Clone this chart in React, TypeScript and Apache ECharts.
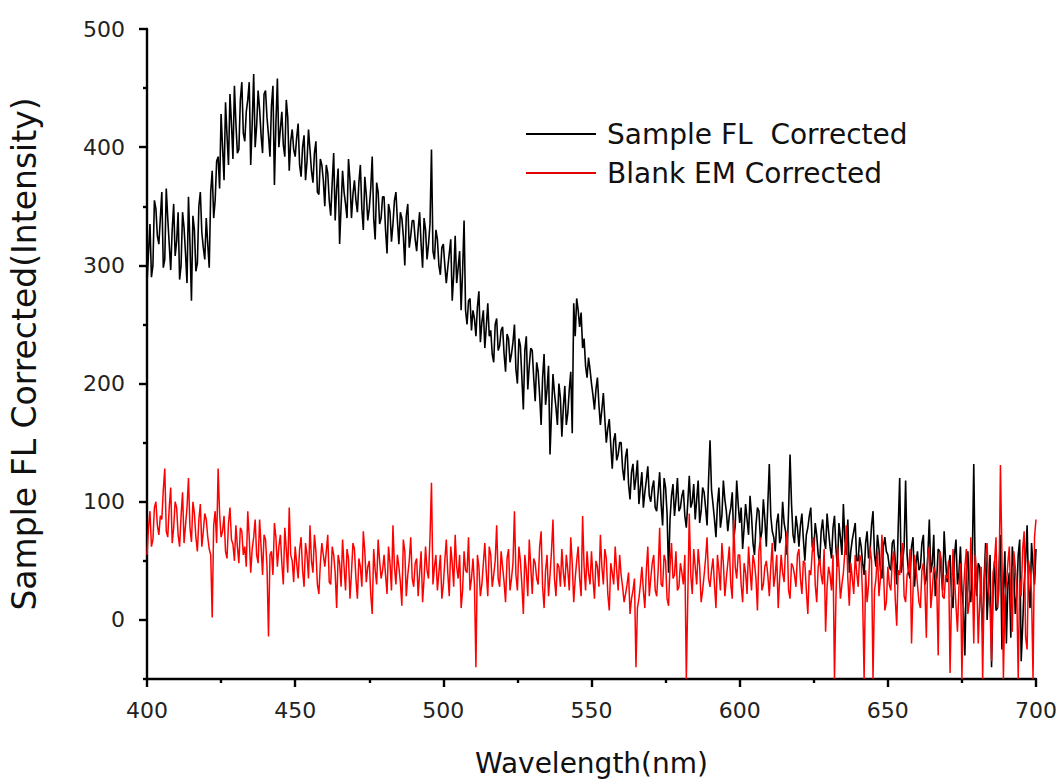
import React, { useEffect, useRef } from "react";
import * as echarts from "echarts";

// Wavelength grid (nm): whole-nm readings 400 → 700 and half-nm readings 400.5 → 699.5
const WL_START = 400;
const WL_STEP = 1;

// Sample FL Corrected (black) at whole nm, 400 → 700
const sampleFLWhole: number[] = [
  285, 335, 300, 348, 318, 362, 305, 340, 296, 352,
  320, 288, 345, 310, 358, 270, 330, 302, 362, 315,
  340, 298, 380, 355, 392, 428, 372, 410, 445, 390,
  420, 398, 455, 405, 440, 385, 462, 418, 432, 395,
  448, 410, 435, 368, 458, 415, 402, 440, 380, 415,
  392, 420, 375, 410, 388, 398, 370, 405, 360, 385,
  350, 378, 342, 395, 365, 318, 380, 352, 390, 340,
  372, 345, 385, 330, 360, 348, 392, 322, 362, 340,
  358, 310, 345, 335, 362, 318, 340, 300, 352, 325,
  338, 312, 345, 298, 330, 318, 398, 305, 322, 292,
  318, 285, 310, 270, 325, 298, 262, 338, 250, 272,
  262, 240, 278, 252, 230, 268, 245, 218, 255, 232,
  248, 210, 238, 225, 250, 200, 232, 178, 240, 215,
  228, 185, 210, 165, 225, 195, 140, 208, 180, 200,
  155, 198, 175, 210, 268, 272, 248, 230, 215, 222,
  200, 178, 205, 165, 192, 150, 170, 128, 158, 140,
  150, 118, 145, 102, 132, 120, 98, 125, 108, 130,
  100, 118, 92, 125, 80, 112, 40, 105, 88, 120,
  95, 110, 78, 122, 100, 85, 118, 92, 108, 80,
  152, 98, 70, 112, 88, 102, 75, 95, 68, 118,
  82, 60, 98, 72, 88, 55, 95, 68, 102, 62,
  132, 75, 58, 90, 70, 82, 55, 140, 72, 88,
  62, 90, 50, 78, 95, 58, 72, 48, 85, 60,
  75, 52, 88, 45, 70, 98, 55, 40, 68, 82,
  50, 62, 38, 75, 58, 92, 45, 60, 35, 70,
  55, 42, 68, 30, 120, 50, 118, 40, 62, 28,
  58, 45, 72, 35, 85, 48, 20, 60, 40, 75,
  32, 55, 10, 68, 40, 25, -30, 58, 15, 132,
  20, 45, -10, 65, 30, -40, 50, 10, 72, 25,
  -20, 40, 62, 5, 55, -35, 30, 80, 10, 45,
  60,
];

// Sample FL Corrected (black) at half nm, 400.5 → 699.5
const sampleFLHalf: number[] = [
  310, 290, 355, 325, 340, 298, 365, 318, 330, 308,
  345, 300, 332, 285, 318, 342, 295, 350, 328, 305,
  318, 362, 340, 388, 365, 400, 438, 385, 420, 452,
  395, 440, 412, 430, 455, 420, 400, 448, 410, 445,
  425, 392, 452, 420, 400, 430, 392, 425, 405, 398,
  408, 385, 400, 372, 415, 380, 395, 362, 390, 372,
  385, 355, 370, 338, 382, 350, 362, 340, 372, 360,
  355, 370, 348, 375, 338, 365, 340, 370, 335, 358,
  330, 352, 320, 355, 338, 345, 325, 342, 315, 338,
  322, 330, 318, 340, 305, 335, 312, 330, 300, 315,
  300, 298, 322, 292, 285, 312, 295, 262, 270, 245,
  255, 265, 235, 262, 248, 240, 225, 250, 228, 245,
  225, 242, 218, 235, 212, 238, 205, 228, 195, 230,
  205, 218, 190, 205, 182, 215, 175, 192, 165, 188,
  180, 165, 195, 158, 240, 262, 260, 238, 205, 212,
  190, 195, 182, 178, 170, 162, 148, 152, 135, 150,
  128, 138, 115, 125, 110, 135, 112, 95, 118, 105,
  112, 95, 108, 98, 120, 90, 85, 115, 102, 92,
  105, 88, 100, 95, 115, 102, 82, 112, 95, 118,
  110, 85, 98, 78, 118, 92, 88, 108, 80, 98,
  95, 78, 85, 105, 65, 80, 92, 75, 85, 98,
  88, 70, 82, 65, 100, 75, 92, 98, 65, 78,
  80, 68, 72, 88, 62, 82, 55, 75, 68, 90,
  62, 78, 60, 82, 55, 68, 85, 58, 75, 50,
  70, 48, 65, 52, 80, 55, 72, 42, 62, 58,
  45, 65, 50, 78, 40, 62, 55, 35, 70, 48,
  42, 65, 30, 55, 40, 72, 35, 58, 25, 50,
  45, 20, 55, 30, 62, 10, 40, 25, 50, 35,
  48, 15, 35, 0, 55, 25, 8, 42, -25, 58,
  30, -15, 45, 20, 68, -5, 50, 25, 65, 30,
];

// Blank EM Corrected (red) at whole nm, 400 → 700
const blankEMWhole: number[] = [
  55, 92, 68, 100, 72, 85, 128, 70, 112, 78,
  95, 62, 108, 80, 120, 66, 90, 58, 98, 75,
  85, 60, 2, 92, 128, 70, 88, 52, 95, 64,
  80, 48, 75, 62, 92, 40, 70, 55, 85, 38,
  68, -14, 58, 82, 45, 72, 30, 60, 95, 50,
  62, 35, 70, 28, 55, 80, 40, 58, 22, 65,
  45, 72, 30, 55, 10, 48, 68, 25, 52, 40,
  60, 18, 45, 75, 32, 50, 5, 42, 68, 35,
  55, 22, 48, 80, 30, 45, 12, 58, 38, 70,
  28, 52, 40, 15, 62, 35, 116, 45, 25, 55,
  30, 68, 20, 48, 72, 35, 10, 58, 40, 25,
  52, -40, 45, 30, 65, 20, 55, 38, 80, 28,
  45, 15, 60, 35, 92, 25, 50, 5, 42, 68,
  22, 48, 30, 75, 10, 55, 38, 85, 20, 45,
  60, 28, 42, 70, 15, 50, 35, 88, 25, 40,
  58, 18, 45, 72, 30, 52, 8, 40, 62, 25,
  38, 15, 30, 5, 25, -40, 18, 45, 10, 62,
  35, 55, 20, 78, 28, 50, 12, 65, 38, 25,
  48, 30, -50, 90, 22, 45, 60, 15, 38, 70,
  28, 52, 10, 42, 65, 20, 48, 30, 85, 35,
  55, 15, 40, 62, 25, 48, 8, 70, 30, 50,
  20, 65, 38, 10, 55, 32, 75, 18, 45, 28,
  60, 22, 48, 5, 38, 70, 15, 52, 30, -10,
  45, 25, -50, 62, 18, 40, 80, 12, 35, 55,
  28, 50, -50, 15, 62, -50, 35, 20, 72, 8,
  45, 25, 58, -5, 38, 65, 15, 42, -20, 55,
  30, 10, 48, -15, 62, 25, 40, -30, 52, 18,
  35, -45, 60, 12, 28, -50, 45, 5, 70, -20,
  38, 15, -50, 55, 25, -35, 48, 10, 131, -50,
  30, 62, -10, 45, -50, 20, 75, -25, 40, -50,
  85,
];

// Blank EM Corrected (red) at half nm, 400.5 → 699.5
const blankEMHalf: number[] = [
  78, 62, 95, 80, 88, 110, 75, 95, 65, 100,
  72, 88, 65, 95, 78, 100, 70, 85, 62, 90,
  70, 55, 80, 65, 90, 75, 58, 82, 68, 50,
  62, 78, 55, 45, 70, 60, 85, 48, 62, 72,
  45, 55, 38, 70, 62, 48, 78, 40, 55, 32,
  48, 60, 42, 65, 35, 50, 72, 30, 48, 55,
  58, 32, 62, 40, 55, 28, 45, 60, 18, 65,
  35, 52, 28, 58, 45, 22, 60, 30, 50, 42,
  38, 62, 25, 45, 55, 32, 68, 20, 50, 35,
  48, 20, 58, 35, 42, 70, 30, 55, 40, 18,
  50, 40, 62, 28, 45, 55, 25, 42, 70, 35,
  30, 55, 20, 48, 40, 62, 28, 50, 35, 58,
  32, 52, 25, 48, 38, 62, 30, 55, 20, 45,
  52, 35, 62, 28, 42, 20, 58, 35, 48, 28,
  40, 55, 25, 48, 35, 62, 20, 45, 58, 30,
  35, 50, 28, 45, 60, 22, 48, 30, 42, 55,
  28, 22, 40, 18, 35, 10, 30, 25, 42, 20,
  48, 25, 42, 30, 55, 18, 45, 35, 58, 28,
  40, 55, 20, 38, 60, 30, 45, 25, 52, 35,
  42, 30, 55, 25, 48, 35, 62, 18, 45, 55,
  30, 48, 22, 42, 55, 35, 58, 25, 45, 38,
  45, 28, 55, 35, 40, 62, 25, 48, 38, 55,
  35, 50, 25, 42, 58, 30, 45, 38, 60, 28,
  38, 55, 20, 45, 30, 58, 35, 48, 22, 40,
  55, 18, 42, 30, 50, 25, 58, 35, 45, 15,
  30, 50, 18, 42, 55, 20, 38, 60, 25, 45,
  15, 42, 28, 55, 10, 45, 30, 58, 20, 38,
  50, 20, 35, -10, 48, 22, 60, 15, 40, 55,
  -20, 45, 30, 65, 10, 40, 70, 25, 55, 20,
  48, 15, 58, 25, 35, 60, -15, 50, 22, 70,
];

const seriesNames = ["Sample FL  Corrected", "Blank EM Corrected"];
const yMajorTicks = [0, 100, 200, 300, 400, 500];
const yMinorTicks = [-50, 50, 150, 250, 350, 450];

const FONT = "DejaVu Sans";

// Merge whole-nm and half-nm readings into one ordered [wavelength, value] list
const mergeReadings = (whole: number[], half: number[]) => {
  const out: number[][] = [];
  whole.forEach((v, i) => {
    const wl = WL_START + i * WL_STEP;
    out.push([wl, v]);
    if (i < half.length) out.push([wl + WL_STEP / 2, half[i]]);
  });
  return out;
};

export default function App() {
  const ref = useRef<HTMLDivElement>(null);

  useEffect(() => {
    if (!ref.current) return;
    const chart = echarts.init(ref.current, undefined, { renderer: "svg" });
    const axisLineStyle = { color: "#000", width: 2.4 };
    chart.setOption({
      animation: false,
      backgroundColor: "#ffffff",
      grid: { left: 145, right: 27, top: 29, bottom: 102, containLabel: false },
      legend: {
        orient: "vertical",
        left: 521,
        top: 115,
        icon: "rect",
        itemWidth: 70,
        itemHeight: 2,
        itemGap: 11,
        data: seriesNames,
        textStyle: {
          fontFamily: FONT,
          fontSize: 28,
          lineHeight: 28,
          color: "#111",
          padding: [0, 0, 0, 6],
        },
      },
      xAxis: {
        type: "value",
        min: 400,
        max: 700,
        interval: 50,
        name: "Wavelength(nm)",
        nameLocation: "middle",
        nameGap: 70,
        nameTextStyle: { fontFamily: FONT, fontSize: 28, color: "#111" },
        axisLine: { onZero: false, lineStyle: axisLineStyle },
        axisTick: { show: true, inside: false, length: 8, lineStyle: axisLineStyle },
        minorTick: { show: true, splitNumber: 2, length: 4, lineStyle: axisLineStyle },
        splitLine: { show: false },
        minorSplitLine: { show: false },
        axisLabel: { fontFamily: FONT, fontSize: 22, color: "#222", margin: 20 },
      },
      yAxis: [
        {
          type: "value",
          min: -50,
          max: 500,
          interval: 50,
          name: "Sample FL Corrected(Intensity)",
          nameLocation: "middle",
          nameGap: 106,
          nameTextStyle: { fontFamily: FONT, fontSize: 33, color: "#111" },
          axisLine: { show: true, onZero: false, lineStyle: axisLineStyle },
          axisTick: {
            show: true,
            length: 8,
            customValues: yMajorTicks,
            lineStyle: axisLineStyle,
          },
          splitLine: { show: false },
          axisLabel: {
            fontFamily: FONT,
            fontSize: 22,
            color: "#222",
            margin: 22,
            customValues: yMajorTicks,
            formatter: (v: number) => (v % 100 === 0 ? String(v) : ""),
          },
        },
        {
          type: "value",
          min: -50,
          max: 500,
          interval: 50,
          position: "left",
          axisLine: { show: false, onZero: false },
          axisTick: {
            show: true,
            length: 4,
            customValues: yMinorTicks,
            lineStyle: axisLineStyle,
          },
          axisLabel: { show: false },
          splitLine: { show: false },
        },
      ],
      series: [
        {
          name: seriesNames[0],
          type: "line",
          yAxisIndex: 0,
          data: mergeReadings(sampleFLWhole, sampleFLHalf),
          showSymbol: false,
          symbol: "none",
          clip: true,
          lineStyle: { color: "#000000", width: 1.6 },
          itemStyle: { color: "#000000" },
        },
        {
          name: seriesNames[1],
          type: "line",
          yAxisIndex: 0,
          data: mergeReadings(blankEMWhole, blankEMHalf),
          showSymbol: false,
          symbol: "none",
          clip: true,
          lineStyle: { color: "#ff0000", width: 1.5 },
          itemStyle: { color: "#e00000" },
        },
      ],
    });
    return () => chart.dispose();
  }, []);

  return (
    <div
      ref={ref}
      style={{ width: 1063, height: 782, position: "absolute", left: 0, top: 0, background: "#fff" }}
    />
  );
}
